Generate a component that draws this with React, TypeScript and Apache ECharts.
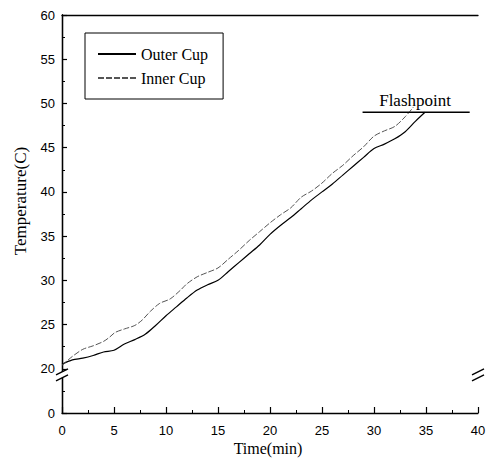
import React, { useEffect, useRef } from "react";
import * as echarts from "echarts";

// Time (min) and temperature (°C) readings
const outerTime = [0, 1, 2, 3, 4, 5, 6, 7, 8, 9, 10, 11, 12, 13, 14, 15, 16, 17, 18, 19, 20, 21, 22, 23, 24, 25, 26, 27, 28, 29, 30, 31, 32, 33, 34, 34.9];
const outerTemp = [20.5, 21.0, 21.2, 21.5, 21.9, 22.1, 22.8, 23.3, 23.9, 24.9, 26.0, 27.0, 28.0, 28.9, 29.5, 30.0, 31.0, 32.0, 33.0, 34.0, 35.2, 36.2, 37.1, 38.1, 39.1, 40.0, 40.9, 41.9, 42.9, 43.9, 44.9, 45.4, 46.0, 46.8, 48.0, 49.0];

const innerTime = [0, 0.5, 1, 2, 3, 4, 4.6, 5.1, 6, 7, 7.7, 8.5, 9.4, 10.4, 11.4, 12, 13, 14, 15, 16, 17, 18, 19, 20, 21, 22, 23, 24, 25, 26, 27, 28, 29, 30, 31, 32, 33, 33.8];
const innerTemp = [20.4, 20.9, 21.4, 22.2, 22.6, 23.1, 23.6, 24.1, 24.5, 24.9, 25.5, 26.5, 27.4, 27.9, 28.9, 29.6, 30.4, 30.9, 31.4, 32.4, 33.4, 34.5, 35.5, 36.5, 37.4, 38.2, 39.4, 40.1, 41.0, 42.1, 43.0, 44.1, 45.1, 46.3, 46.9, 47.4, 48.5, 49.6];

const flashTime = [28.9, 39.2];
const flashTemp = [49, 49];

const seriesNames = ["Outer Cup", "Inner Cup"];
const flashLabel = "Flashpoint";
const xName = "Time(min)";
const yName = "Temperature(C)";

// y axis is broken: display value 15 stands for 0, values 20..60 are drawn as is
const yDisplayMin = 15;
const yMax = 60;
const yBreakValue = 19.3;

const zip = (xs: number[], ys: number[]) => xs.map((x, i) => [x, ys[i]]);

export default function App() {
  const ref = useRef<HTMLDivElement>(null);
  useEffect(() => {
    if (!ref.current) return;
    const chart = echarts.init(ref.current, null, { renderer: "svg" });
    const labelFont = { fontFamily: "Liberation Sans", fontSize: 13, color: "#000" };
    chart.setOption({
      animation: false,
      backgroundColor: "#fff",
      grid: { left: 62, top: 15, right: 16, bottom: 46, containLabel: false },
      legend: {
        data: seriesNames,
        orient: "vertical",
        left: 85,
        top: 33,
        padding: [13, 15, 13, 12],
        itemGap: 8,
        itemWidth: 38,
        itemHeight: 14,
        borderColor: "#000",
        borderWidth: 1,
        itemStyle: { opacity: 0 },
        textStyle: { fontFamily: "Liberation Serif", fontSize: 16, color: "#000", lineHeight: 14 },
      },
      xAxis: [
        {
          type: "value",
          min: 0,
          max: 40,
          interval: 5,
          axisLine: { lineStyle: { color: "#000", width: 1.3 } },
          axisTick: { inside: true, length: 6, lineStyle: { color: "#000", width: 1.2 } },
          minorTick: { show: true, splitNumber: 2, length: 3, lineStyle: { color: "#000" } },
          axisLabel: { ...labelFont, margin: 11 },
          splitLine: { show: false },
        },
        {
          type: "value",
          position: "top",
          min: 0,
          max: 40,
          axisLine: { show: true, lineStyle: { color: "#000", width: 1.3 } },
          axisTick: { show: false },
          axisLabel: { show: false },
          splitLine: { show: false },
        },
      ],
      yAxis: [
        {
          type: "value",
          min: yDisplayMin,
          max: yMax,
          interval: 5,
          axisLine: { show: true, lineStyle: { color: "#000", width: 1.3 } },
          axisTick: { inside: true, length: 5, lineStyle: { color: "#000", width: 1.2 } },
          minorTick: { show: true, splitNumber: 2, length: 3, lineStyle: { color: "#000" } },
          axisLabel: {
            ...labelFont,
            margin: 7,
            formatter: (v: number) => (v === yDisplayMin ? "0" : String(v)),
          },
          splitLine: { show: false },
        },
        {
          type: "value",
          position: "right",
          min: yDisplayMin,
          max: yMax,
          axisLine: { show: true, lineStyle: { color: "#000", width: 1.3 } },
          axisTick: { show: false },
          axisLabel: { show: false },
          splitLine: { show: false },
        },
      ],
      series: [
        {
          name: seriesNames[0],
          type: "line",
          data: zip(outerTime, outerTemp),
          symbol: "none",
          smooth: 0.3,
          lineStyle: { color: "#000", width: 1.2, type: "solid" },
          itemStyle: { color: "#000" },
          z: 3,
        },
        {
          name: seriesNames[1],
          type: "line",
          data: zip(innerTime, innerTemp),
          symbol: "none",
          smooth: 0.3,
          lineStyle: { color: "#555", width: 1, type: [6, 2] },
          itemStyle: { color: "#555" },
          z: 3,
        },
        {
          name: flashLabel,
          type: "line",
          data: zip(flashTime, flashTemp),
          symbol: "none",
          lineStyle: { color: "#000", width: 1.4 },
          z: 4,
        },
      ],
    });

    const px = (x: number, y: number) => chart.convertToPixel({ gridIndex: 0 }, [x, y]) as number[];
    const [x0, yb] = px(0, yBreakValue);
    const [x1] = px(40, yBreakValue);
    const [gx0, gy0] = px(0, yDisplayMin);
    const [gx1, gy1] = px(40, yMax);
    const [fx, fy] = px((flashTime[0] + flashTime[1]) / 2 - 0.1, flashTemp[0]);

    const breakMarks = (cx: number) => [
      { type: "rect", shape: { x: cx - 3, y: yb - 3, width: 6, height: 6 }, style: { fill: "#fff" }, z: 100 },
      { type: "line", shape: { x1: cx - 6, y1: yb, x2: cx + 6, y2: yb - 6 }, style: { stroke: "#000", lineWidth: 1.4 }, z: 101 },
      { type: "line", shape: { x1: cx - 6, y1: yb + 6, x2: cx + 6, y2: yb }, style: { stroke: "#000", lineWidth: 1.4 }, z: 101 },
    ];

    chart.setOption({
      graphic: [
        ...breakMarks(x0),
        ...breakMarks(x1),
        {
          type: "text",
          x: (gx0 + gx1) / 2 - 2,
          y: gy0 + 35,
          style: { text: xName, fontFamily: "Liberation Serif", fontSize: 16, fill: "#000", align: "center", verticalAlign: "middle" },
        },
        {
          type: "text",
          x: 20,
          y: (gy0 + gy1) / 2 - 13,
          rotation: Math.PI / 2,
          style: { text: yName, fontFamily: "Liberation Serif", fontSize: 17, fill: "#000", align: "center", verticalAlign: "middle" },
        },
        {
          type: "text",
          x: fx,
          y: fy - 12,
          style: { text: flashLabel, fontFamily: "Liberation Serif", fontSize: 17, fill: "#000", align: "center", verticalAlign: "middle" },
        },
      ],
    });

    return () => chart.dispose();
  }, []);
  return <div ref={ref} style={{ position: "absolute", left: 0, top: 0, width: 494, height: 459 }} />;
}
